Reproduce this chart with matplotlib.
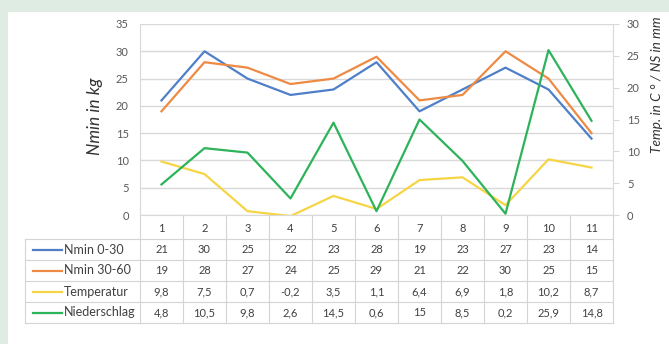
import matplotlib.pyplot as plt
import matplotlib.patches as patches
import numpy as np

plt.rcParams["font.family"] = ["Lato", "DejaVu Sans"]

categories = ["1", "2", "3", "4", "5", "6", "7", "8", "9", "10", "11"]
nmin_0_30 = [21, 30, 25, 22, 23, 28, 19, 23, 27, 23, 14]
nmin_30_60 = [19, 28, 27, 24, 25, 29, 21, 22, 30, 25, 15]
temperatur = [9.8, 7.5, 0.7, -0.2, 3.5, 1.1, 6.4, 6.9, 1.8, 10.2, 8.7]
niederschlag = [4.8, 10.5, 9.8, 2.6, 14.5, 0.6, 15, 8.5, 0.2, 25.9, 14.8]
series_names = ["Nmin 0-30", "Nmin 30-60", "Temperatur", "Niederschlag"]
colors = ["#4f7fc8", "#ed8a44", "#f6d545", "#2db35a"]

W, H = 669, 344
fig = plt.figure(figsize=(W / 100, H / 100), dpi=100)
fig.patch.set_facecolor("#deece3")
fig.add_artist(patches.Rectangle((8 / W, 0), 1, 1 - 12 / H, transform=fig.transFigure,
                                 facecolor="white", edgecolor="none", zorder=0))

# plot area in pixels
x0, x1, y_top, y_bot = 140, 613, 24, 215
ax = fig.add_axes([x0 / W, 1 - y_bot / H, (x1 - x0) / W, (y_bot - y_top) / H])
ax.set_facecolor("none")
ax2 = ax.twinx()

x = np.arange(len(categories))
grid_c = "#d9d9d9"
tick_c = "#595959"

# Nmin and Temperatur on the left axis, Niederschlag on the right axis
ax.plot(x, nmin_0_30, color=colors[0], lw=1.6, zorder=3)
ax.plot(x, nmin_30_60, color=colors[1], lw=1.6, zorder=3)
ax.plot(x, temperatur, color=colors[2], lw=1.6, zorder=3)
ax2.plot(x, niederschlag, color=colors[3], lw=1.6)

ax.set_xlim(-0.5, len(categories) - 0.5)
ax.set_ylim(0, 35)
ax.set_yticks(range(0, 36, 5))
ax2.set_ylim(0, 30)
ax2.set_yticks(range(0, 31, 5))
ax.set_xticks([])
ax.grid(axis="y", color=grid_c, lw=1)
ax.set_axisbelow(True)

for a in (ax, ax2):
    for s in a.spines.values():
        s.set_visible(False)
ax.spines["left"].set_visible(True)
ax.spines["left"].set_color(grid_c)
ax.spines["bottom"].set_visible(True)
ax.spines["bottom"].set_color(grid_c)
ax2.spines["right"].set_visible(True)
ax2.spines["right"].set_color(grid_c)
ax.tick_params(axis="y", length=0, labelsize=8, labelcolor=tick_c, pad=8)
ax2.tick_params(axis="y", length=4, color=grid_c, labelsize=8, labelcolor=tick_c, pad=6)

fig.text(95 / W, 1 - 116 / H, "Nmin in kg", rotation=90, ha="center", va="center",
         fontsize=12.5, style="italic", color="#333333")
fig.text(657 / W, 1 - 85 / H, "Temp. in C ° / NS in mm", rotation=90, ha="center",
         va="center", fontsize=9.8, style="italic", color="#333333")

# data table below the plot
tr = ax.get_xaxis_transform()
unit = (x1 - x0) / len(categories)
def ya(py):
    return (y_bot - py) / (y_bot - y_top)
def xd(px):
    return -0.5 + (px - x0) / unit

rows = [nmin_0_30, nmin_30_60, temperatur, niederschlag]
row_edges = [239, 260, 281, 302, 323]
tab_left = 25
bc = "#d4d4d4"

for k in range(len(categories) + 1):
    ax.plot([k - 0.5, k - 0.5], [0, ya(row_edges[-1])], transform=tr, color=bc,
            lw=0.8, clip_on=False)
ax.plot([xd(tab_left)] * 2, [ya(row_edges[0]), ya(row_edges[-1])], transform=tr,
        color=bc, lw=0.8, clip_on=False)
for e in row_edges:
    ax.plot([xd(tab_left), len(categories) - 0.5], [ya(e)] * 2, transform=tr, color=bc,
            lw=0.8, clip_on=False)

for i, c in enumerate(categories):
    ax.text(x[i], ya((y_bot + row_edges[0]) / 2 + 1), c, transform=tr, ha="center",
            va="center", fontsize=8, color="#404040")

for r, vals in enumerate(rows):
    yc = ya((row_edges[r] + row_edges[r + 1]) / 2)
    for i, v in enumerate(vals):
        s = f"{v:g}".replace(".", ",")
        ax.text(x[i], yc, s, transform=tr, ha="center", va="center", fontsize=8,
                color="#404040")
    ax.text(xd(64), yc, series_names[r], transform=tr, ha="left", va="center",
            fontsize=9, color="#404040")
    ax.plot([xd(33), xd(62)], [yc, yc], transform=tr, color=colors[r], lw=1.6,
            clip_on=False)

fig.savefig("out.png", dpi=100)
